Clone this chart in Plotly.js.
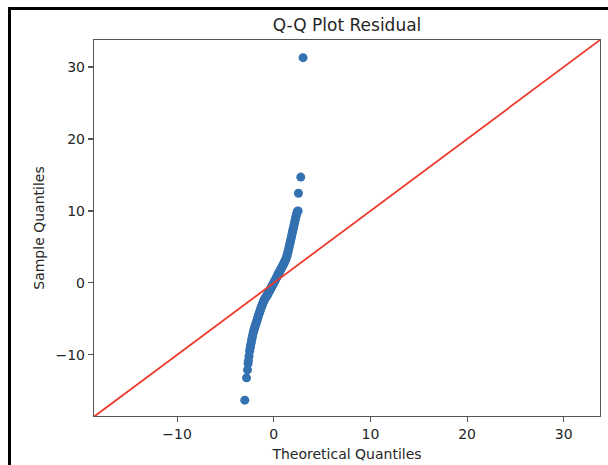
<!DOCTYPE html>
<html>
<head>
<meta charset="utf-8">
<script src="https://cdn.plot.ly/plotly-3.0.1.min.js"></script>
<style>
  html, body { margin: 0; padding: 0; background: #fff; }
  #wrap { position: relative; width: 608px; height: 465px; overflow: hidden; }
  #chart { position: absolute; left: 0; top: 0; width: 608px; height: 465px; }
  #frame { position: absolute; left: 8px; top: 7px; width: 620px; height: 480px;
           border-left: 3px solid #000; border-top: 3px solid #000; pointer-events: none; }
</style>
</head>
<body>
<div id="wrap">
  <div id="chart"></div>
  <div id="frame"></div>
</div>
<script>
// Theoretical quantiles (x) and sample quantiles (y)
const theoretical = [
  -3.00, -2.82, -2.72, -2.66, -2.62, -2.56, -2.50, -2.45, -2.40, -2.35, -2.30, -2.25, -2.20, -2.15, -2.10,
  -2.05, -2.00, -1.95, -1.90, -1.85, -1.80, -1.75, -1.70, -1.65, -1.60, -1.55, -1.50, -1.45, -1.40, -1.35,
  -1.30, -1.25, -1.20, -1.15, -1.10, -1.05, -1.00, -0.95, -0.90, -0.85, -0.80, -0.75, -0.70, -0.65, -0.60,
  -0.55, -0.50, -0.45, -0.40, -0.35, -0.30, -0.25, -0.20, -0.15, -0.10, -0.05, 0.00, 0.05, 0.10, 0.15,
  0.20, 0.25, 0.30, 0.35, 0.40, 0.45, 0.50, 0.55, 0.60, 0.65, 0.70, 0.75, 0.80, 0.85, 0.90,
  0.95, 1.00, 1.05, 1.10, 1.15, 1.20, 1.25, 1.30, 1.35, 1.40, 1.45, 1.50, 1.55, 1.60, 1.65,
  1.70, 1.75, 1.80, 1.85, 1.90, 1.95, 2.00, 2.05, 2.10, 2.15, 2.20, 2.25, 2.30, 2.35, 2.40,
  2.45, 2.52, 2.55, 2.79, 3.03
];
const sample = [
  -16.3, -13.2, -12.1, -11.2, -10.8, -10.2, -9.5, -9.1, -8.75, -8.4, -8.05, -7.7, -7.4, -7.05, -6.8,
  -6.55, -6.35, -6.1, -5.9, -5.7, -5.5, -5.25, -5.05, -4.85, -4.6, -4.4, -4.2, -4.0, -3.8, -3.6,
  -3.4, -3.2, -3.05, -2.9, -2.7, -2.55, -2.4, -2.3, -2.15, -2.05, -1.95, -1.85, -1.75, -1.62, -1.5,
  -1.38, -1.25, -1.12, -1.0, -0.88, -0.75, -0.62, -0.5, -0.38, -0.25, -0.12, 0.0, 0.13, 0.26, 0.39,
  0.52, 0.65, 0.78, 0.91, 1.04, 1.17, 1.3, 1.43, 1.56, 1.69, 1.82, 1.95, 2.08, 2.21, 2.34,
  2.47, 2.6, 2.73, 2.87, 3.0, 3.15, 3.3, 3.5, 3.7, 3.95, 4.2, 4.45, 4.75, 5.05, 5.35,
  5.65, 5.95, 6.25, 6.55, 6.85, 7.15, 7.45, 7.75, 8.05, 8.35, 8.65, 8.95, 9.25, 9.5, 9.75,
  9.95, 10.0, 12.45, 14.7, 31.3
];
// 45-degree reference line spans the (equal) axis limits
const axisLimits = [-18.6, 33.75];
const xTicks = [-10, 0, 10, 20, 30];
const yTicks = [-10, 0, 10, 20, 30];

const axisColor = '#555555';
const tickFont = { family: 'DejaVu Sans, sans-serif', size: 14, color: '#262626' };

const traces = [
  {
    x: theoretical, y: sample, type: 'scatter', mode: 'markers',
    marker: { size: 9, color: '#3471b1', line: { width: 0 } },
    hoverinfo: 'skip', showlegend: false
  },
  {
    x: axisLimits, y: axisLimits, type: 'scatter', mode: 'lines',
    line: { color: '#ee3b2e', width: 1.8 },
    hoverinfo: 'skip', showlegend: false
  }
];

const layout = {
  width: 608, height: 465,
  margin: { l: 94, r: 8, t: 40, b: 49, pad: 0 },
  paper_bgcolor: '#ffffff', plot_bgcolor: '#ffffff',
  showlegend: false,
  title: {
    text: 'Q-Q Plot Residual',
    font: { family: 'DejaVu Sans, sans-serif', size: 17, color: '#262626' },
    x: 0.5, xref: 'paper', xanchor: 'center',
    y: 1 - 25 / 465, yref: 'container', yanchor: 'middle'
  },
  xaxis: {
    range: axisLimits, tickvals: xTicks, ticktext: xTicks.map(v => v < 0 ? '\u2212' + Math.abs(v) : String(v)),
    showgrid: false, zeroline: false,
    showline: true, mirror: true, linecolor: axisColor, linewidth: 1.2,
    ticks: 'outside', ticklen: 5, tickwidth: 1.2, tickcolor: axisColor,
    tickfont: tickFont,
    title: { text: 'Theoretical Quantiles', font: tickFont, standoff: 8 }
  },
  yaxis: {
    range: [-18.5, 33.75], tickvals: yTicks, ticktext: yTicks.map(v => v < 0 ? '\u2212' + Math.abs(v) : String(v)),
    showgrid: false, zeroline: false,
    showline: true, mirror: true, linecolor: axisColor, linewidth: 1.2,
    ticks: 'outside', ticklen: 5, tickwidth: 1.2, tickcolor: axisColor,
    tickfont: tickFont,
    title: { text: 'Sample Quantiles', font: tickFont, standoff: 7 }
  }
};

Plotly.newPlot('chart', traces, layout, { staticPlot: true, displayModeBar: false });
</script>
</body>
</html>
